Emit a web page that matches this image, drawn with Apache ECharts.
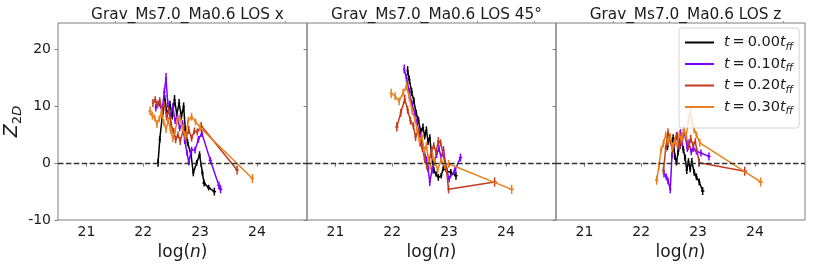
<!DOCTYPE html>
<html><head><meta charset="utf-8">
<script src="https://cdn.jsdelivr.net/npm/echarts@6/dist/echarts.min.js"></script>
<style>html,body{margin:0;padding:0;background:#fff}#c{width:814px;height:268px}</style>
</head><body><div id="c"></div>
<script>
// ---------- data ----------
const panelTitles = ['Grav_Ms7.0_Ma0.6 LOS x', 'Grav_Ms7.0_Ma0.6 LOS 45°', 'Grav_Ms7.0_Ma0.6 LOS z'];
const timeLabels = ['0.00', '0.10', '0.20', '0.30'];
const xTicks = [21, 22, 23, 24];
const xMinorTicks = [21.5, 22.5, 23.5, 24.5];
const yTicks = [-10, 0, 10, 20];
// each point: [log(n), Z_2D, xerr, yerr]
const losX_t000 = [[22.26,0.1,0.02,0.7],[22.29,4.2,0.02,0.6],[22.34,8.8,0.02,0.7],[22.38,11.2,0.02,0.8],[22.42,8.6,0.02,0.6],[22.47,10.3,0.02,0.7],[22.51,8.3,0.02,0.6],[22.55,11.2,0.02,0.8],[22.59,8.6,0.02,0.6],[22.63,10.6,0.02,0.7],[22.67,8.3,0.02,0.6],[22.71,10.0,0.02,0.7],[22.74,5.9,0.02,0.6],[22.78,3.6,0.02,0.6],[22.84,1.5,0.02,0.5],[22.88,-1.7,0.02,0.6],[22.94,0.1,0.02,0.5],[22.99,1.5,0.02,0.6],[23.04,-1.7,0.02,0.5],[23.07,-3.5,0.03,0.6],[23.15,-4.3,0.03,0.5],[23.25,-5.0,0.03,0.7]];
const losX_t010 = [[22.22,9.8,0.02,0.7],[22.28,10.6,0.02,0.6],[22.33,9.2,0.02,0.7],[22.37,12.5,0.02,0.8],[22.40,15.0,0.02,0.9],[22.43,10.5,0.02,0.7],[22.47,8.4,0.02,0.6],[22.52,9.9,0.02,0.7],[22.56,7.5,0.02,0.6],[22.60,8.2,0.02,0.6],[22.64,6.2,0.02,0.6],[22.69,7.0,0.02,0.6],[22.73,4.0,0.02,0.6],[22.77,1.8,0.02,0.5],[22.80,0.2,0.02,0.6],[22.85,2.4,0.02,0.5],[22.91,2.3,0.02,0.6],[22.97,4.2,0.02,0.6],[23.03,5.3,0.02,0.7],[23.18,0.5,0.03,0.6],[23.33,-3.9,0.03,0.7],[23.36,-4.6,0.03,0.7]];
const losX_t020 = [[22.17,10.6,0.02,0.7],[22.21,11.2,0.02,0.6],[22.25,10.3,0.02,0.7],[22.29,11.0,0.02,0.6],[22.33,9.5,0.02,0.7],[22.37,10.4,0.02,0.6],[22.41,8.2,0.02,0.7],[22.45,9.4,0.02,0.6],[22.49,6.8,0.02,0.7],[22.53,5.6,0.02,0.6],[22.57,4.2,0.02,0.7],[22.61,5.0,0.02,0.6],[22.65,3.9,0.02,0.7],[22.70,5.7,0.02,0.6],[22.75,4.5,0.02,0.6],[22.80,5.9,0.02,0.7],[22.85,4.4,0.02,0.6],[22.90,5.7,0.02,0.6],[22.95,5.5,0.02,0.6],[23.02,6.6,0.02,0.7],[23.65,-1.2,0.03,0.8]];
const losX_t030 = [[22.12,9.2,0.03,0.8],[22.16,8.4,0.02,0.7],[22.20,8.0,0.02,0.6],[22.24,6.9,0.02,0.7],[22.28,7.8,0.02,0.6],[22.32,9.0,0.02,0.7],[22.36,7.2,0.02,0.6],[22.40,6.0,0.02,0.7],[22.44,7.5,0.02,0.6],[22.48,5.9,0.02,0.7],[22.52,4.3,0.02,0.6],[22.56,5.7,0.02,0.6],[22.60,7.6,0.02,0.7],[22.64,8.0,0.02,0.6],[22.69,6.2,0.02,0.6],[22.74,4.7,0.02,0.6],[22.79,7.5,0.02,0.7],[22.85,8.2,0.02,0.7],[22.92,7.3,0.02,0.6],[23.00,6.3,0.02,0.7],[23.92,-2.7,0.03,0.8]];
const los45_t000 = [[22.27,16.3,0.02,0.8],[22.30,14.7,0.02,0.7],[22.34,12.6,0.02,0.7],[22.38,11.0,0.02,0.6],[22.42,8.8,0.02,0.6],[22.46,7.6,0.02,0.6],[22.50,5.6,0.02,0.6],[22.54,6.3,0.02,0.7],[22.57,4.8,0.02,0.6],[22.60,5.8,0.02,0.7],[22.63,3.8,0.02,0.6],[22.66,4.5,0.02,0.6],[22.69,1.6,0.02,0.6],[22.73,-1.2,0.02,0.6],[22.77,-1.9,0.02,0.5],[22.81,-2.5,0.02,0.6],[22.86,-2.2,0.02,0.5],[22.90,-0.8,0.02,0.6],[22.96,-1.4,0.02,0.5],[23.03,-1.6,0.02,0.6],[23.12,-2.2,0.03,0.7]];
const los45_t010 = [[22.21,16.6,0.02,0.8],[22.25,15.0,0.02,0.7],[22.30,12.5,0.02,0.7],[22.35,10.3,0.02,0.7],[22.40,8.7,0.02,0.6],[22.44,6.8,0.02,0.6],[22.48,5.2,0.02,0.6],[22.52,3.9,0.02,0.7],[22.56,2.3,0.02,0.6],[22.60,0.5,0.02,0.7],[22.63,-1.0,0.02,0.6],[22.66,-3.3,0.02,0.7],[22.70,-1.2,0.02,0.6],[22.74,0.2,0.02,0.6],[22.78,1.6,0.02,0.7],[22.82,2.6,0.02,0.6],[22.86,1.0,0.02,0.6],[22.90,2.3,0.02,0.7],[22.95,-0.8,0.02,0.6],[23.00,-2.8,0.02,0.6],[23.10,-1.3,0.03,0.6],[23.20,1.0,0.03,0.7]];
const los45_t020 = [[22.08,6.4,0.03,0.8],[22.15,8.9,0.02,0.7],[22.22,11.3,0.02,0.8],[22.27,9.4,0.02,0.7],[22.32,7.5,0.02,0.7],[22.37,6.6,0.02,0.6],[22.41,4.6,0.02,0.7],[22.45,5.7,0.02,0.6],[22.49,3.5,0.02,0.6],[22.53,2.6,0.02,0.6],[22.57,0.7,0.02,0.7],[22.61,-0.6,0.02,0.6],[22.65,0.5,0.02,0.6],[22.69,2.2,0.02,0.7],[22.73,3.1,0.02,0.6],[22.77,2.0,0.02,0.6],[22.81,3.9,0.02,0.7],[22.85,3.6,0.02,0.6],[22.89,1.8,0.02,0.6],[22.95,-1.0,0.02,0.6],[22.99,-4.6,0.02,0.7],[23.80,-3.3,0.04,0.8]];
const los45_t030 = [[21.98,12.3,0.03,0.8],[22.05,11.8,0.02,0.7],[22.12,10.9,0.02,0.7],[22.19,12.4,0.02,0.7],[22.25,13.6,0.02,0.8],[22.30,11.6,0.02,0.7],[22.35,9.2,0.02,0.7],[22.40,7.7,0.02,0.6],[22.44,5.9,0.02,0.7],[22.48,3.9,0.02,0.6],[22.52,4.8,0.02,0.6],[22.56,2.3,0.02,0.6],[22.60,3.0,0.02,0.7],[22.63,1.0,0.02,0.6],[22.67,-0.5,0.02,0.6],[22.71,1.3,0.02,0.6],[22.75,0.2,0.02,0.7],[22.80,-1.2,0.02,0.6],[22.86,0.6,0.02,0.6],[22.92,-0.4,0.02,0.6],[22.99,-0.1,0.02,0.7],[24.10,-4.6,0.04,0.8]];
const losZ_t000 = [[22.46,2.9,0.02,0.6],[22.50,4.5,0.02,0.6],[22.53,3.6,0.02,0.6],[22.56,4.4,0.02,0.7],[22.59,1.2,0.02,0.6],[22.62,0.2,0.02,0.6],[22.65,2.1,0.02,0.6],[22.68,3.2,0.02,0.7],[22.71,4.0,0.02,0.6],[22.74,2.4,0.02,0.6],[22.77,1.0,0.02,0.6],[22.80,-1.2,0.02,0.7],[22.83,0.3,0.02,0.6],[22.86,-1.0,0.02,0.6],[22.89,0.3,0.02,0.6],[22.93,-1.6,0.02,0.6],[22.97,-2.4,0.02,0.6],[23.02,-3.3,0.02,0.6],[23.08,-4.9,0.03,0.7]];
const losZ_t010 = [[22.40,-1.8,0.02,0.7],[22.44,-2.4,0.02,0.6],[22.47,-3.1,0.02,0.6],[22.51,-4.6,0.02,0.7],[22.54,1.4,0.02,0.6],[22.58,3.7,0.02,0.7],[22.62,4.8,0.02,0.7],[22.65,3.0,0.02,0.6],[22.69,5.3,0.02,0.7],[22.72,3.6,0.02,0.6],[22.75,5.9,0.02,0.7],[22.78,4.5,0.02,0.6],[22.81,2.6,0.02,0.6],[22.84,3.5,0.02,0.7],[22.88,2.0,0.02,0.6],[22.92,2.6,0.02,0.6],[22.97,2.1,0.02,0.6],[23.05,1.8,0.02,0.6],[23.19,1.2,0.03,0.7]];
const losZ_t020 = [[22.39,-1.3,0.02,0.7],[22.43,2.6,0.02,0.6],[22.47,5.4,0.02,0.7],[22.51,4.3,0.02,0.6],[22.55,2.4,0.02,0.6],[22.59,3.8,0.02,0.7],[22.63,4.9,0.02,0.6],[22.67,3.0,0.02,0.6],[22.71,4.2,0.02,0.7],[22.75,5.6,0.02,0.6],[22.79,4.5,0.02,0.6],[22.83,2.9,0.02,0.6],[22.87,4.3,0.02,0.7],[22.91,3.2,0.02,0.6],[22.95,3.8,0.02,0.6],[23.02,0.1,0.02,0.7],[23.82,-1.4,0.04,0.8]];
const losZ_t030 = [[22.27,-3.0,0.03,0.8],[22.31,-0.5,0.02,0.7],[22.35,2.4,0.02,0.6],[22.39,3.5,0.02,0.7],[22.43,5.0,0.02,0.6],[22.47,3.7,0.02,0.6],[22.51,4.6,0.02,0.7],[22.55,2.9,0.02,0.6],[22.59,4.0,0.02,0.6],[22.63,3.2,0.02,0.6],[22.67,5.1,0.02,0.7],[22.71,4.1,0.02,0.6],[22.75,6.0,0.02,0.7],[22.79,4.8,0.02,0.6],[22.83,7.6,0.02,0.8],[22.86,9.0,0.02,0.9],[22.89,7.4,0.02,0.7],[22.93,6.0,0.02,0.7],[22.97,5.0,0.02,0.6],[23.03,3.6,0.02,0.7],[24.10,-3.3,0.04,0.8]];

// ---------- styling ----------
const colors = ['#000000', '#8000ff', '#c23b1f', '#e8801c'];
const FONT = 'DejaVu Sans';
const panels = [
  [losX_t000, losX_t010, losX_t020, losX_t030],
  [los45_t000, los45_t010, los45_t020, los45_t030],
  [losZ_t000, losZ_t010, losZ_t020, losZ_t030]
];
const gridLefts = [58, 307, 556];
const PW = 249, PT = 23, PH = 197;
const XMIN = 20.5, XMAX = 24.88, YMIN = -10, YMAX = 24.7;
const spine = '#7f7f7f';

const grid = [], xAxis = [], yAxis = [], series = [], title = [];
gridLefts.forEach((L, p) => {
  grid.push({left: L, top: PT, width: PW, height: PH, show: true, borderColor: spine, borderWidth: 1, backgroundColor: 'transparent'});
  title.push({text: panelTitles[p], left: L + PW / 2, top: 3, textAlign: 'center',
    textStyle: {fontFamily: FONT, fontSize: 15.3, fontWeight: 'normal', color: '#1a1a1a'}});
  xAxis.push({type: 'value', gridIndex: p, min: XMIN, max: XMAX, splitLine: {show: false},
    axisLine: {show: false},
    axisTick: {show: true, length: 3.5, lineStyle: {color: spine, width: 1}, customValues: xTicks},
    axisLabel: {show: true, customValues: xTicks, margin: 5, color: '#1a1a1a', fontFamily: FONT, fontSize: 14, formatter: v => String(v)},
    name: '{r|log(}{i|n}{r|)}', nameLocation: 'middle', nameGap: 22,
    nameTextStyle: {rich: {r: {fontFamily: FONT, fontSize: 17, color: '#1a1a1a'}, i: {fontFamily: FONT, fontSize: 17, fontStyle: 'italic', color: '#1a1a1a'}}}
  });
  xAxis.push({type: 'value', gridIndex: p, min: XMIN, max: XMAX, splitLine: {show: false},
    axisLine: {show: false},
    axisTick: {show: true, length: 2, lineStyle: {color: spine, width: 0.8}, customValues: xMinorTicks},
    axisLabel: {show: false}
  });
  yAxis.push({type: 'value', gridIndex: p, min: YMIN, max: YMAX, splitLine: {show: false},
    axisLine: {show: false},
    axisTick: {show: true, length: 3.5, lineStyle: {color: spine, width: 1}, customValues: yTicks},
    axisLabel: {show: p === 0, customValues: yTicks, margin: 7, color: '#1a1a1a', fontFamily: FONT, fontSize: 14, formatter: v => String(v)},
    name: p === 0 ? '{z|Z}{s|2}{si|D}' : '', nameLocation: 'middle', nameGap: 34, nameRotate: 90,
    nameTextStyle: {rich: {
      z: {fontFamily: FONT, fontSize: 19, fontStyle: 'italic', color: '#1a1a1a', lineHeight: 24},
      s: {fontFamily: FONT, fontSize: 13, color: '#1a1a1a', verticalAlign: 'bottom', lineHeight: 14},
      si: {fontFamily: FONT, fontSize: 13, fontStyle: 'italic', color: '#1a1a1a', verticalAlign: 'bottom', lineHeight: 14}
    }}
  });
  const xi = p * 2;
  series.push({type: 'line', xAxisIndex: xi, yAxisIndex: p, data: [], silent: true,
    markLine: {silent: true, symbol: 'none', animation: false, label: {show: false},
      lineStyle: {color: '#333', width: 1.4, type: [5.5, 2.4]}, data: [{yAxis: 0}]}});
  panels[p].forEach((arr, k) => {
    const col = colors[k];
    series.push({type: 'line', name: timeLabels[k], xAxisIndex: xi, yAxisIndex: p,
      data: arr.map(d => [d[0], d[1]]), showSymbol: false, symbol: 'none',
      lineStyle: {color: col, width: 1.5}, itemStyle: {color: col}, z: 2 + k * 0.1, animation: false});
    series.push({type: 'custom', name: timeLabels[k], xAxisIndex: xi, yAxisIndex: p,
      data: arr, encode: {x: 0, y: 1}, z: 2 + k * 0.1, animation: false, silent: true,
      renderItem: (params, api) => {
        const x = api.value(0), y = api.value(1), xe = api.value(2), ye = api.value(3);
        const a = api.coord([x, y - ye]), b = api.coord([x, y + ye]);
        const c = api.coord([x - xe, y]), d = api.coord([x + xe, y]);
        const st = {stroke: col, lineWidth: 1.5};
        return {type: 'group', children: [
          {type: 'line', shape: {x1: a[0], y1: a[1], x2: b[0], y2: b[1]}, style: st},
          {type: 'line', shape: {x1: c[0], y1: c[1], x2: d[0], y2: d[1]}, style: st}
        ]};
      }});
  });
});

const chart = echarts.init(document.getElementById('c'), null, {renderer: 'canvas'});
chart.setOption({
  animation: false,
  backgroundColor: '#ffffff',
  title, grid, xAxis, yAxis, series,
  legend: {
    data: timeLabels.map(n => ({name: n, icon: 'rect'})),
    orient: 'vertical', left: 679, top: 28, itemWidth: 29, itemHeight: 2, itemGap: 4,
    padding: [7, 6, 11, 6], selectedMode: false,
    backgroundColor: 'rgba(255,255,255,0.8)', borderColor: '#d4d4d4', borderWidth: 1, borderRadius: 3,
    formatter: n => '{i0|t}{r|\u2009=\u2009' + n + '}{i|t}{s|ff}',
    textStyle: {rich: {
      i0: {fontFamily: FONT, fontSize: 14.5, fontStyle: 'italic', color: '#1a1a1a', lineHeight: 20, padding: [0, 0, 0, 5]},
      i: {fontFamily: FONT, fontSize: 14.5, fontStyle: 'italic', color: '#1a1a1a', lineHeight: 20},
      r: {fontFamily: FONT, fontSize: 14.5, color: '#1a1a1a', lineHeight: 20},
      s: {fontFamily: FONT, fontSize: 10.5, fontStyle: 'italic', color: '#1a1a1a', verticalAlign: 'bottom', lineHeight: 14}
    }}
  }
});
</script></body></html>
